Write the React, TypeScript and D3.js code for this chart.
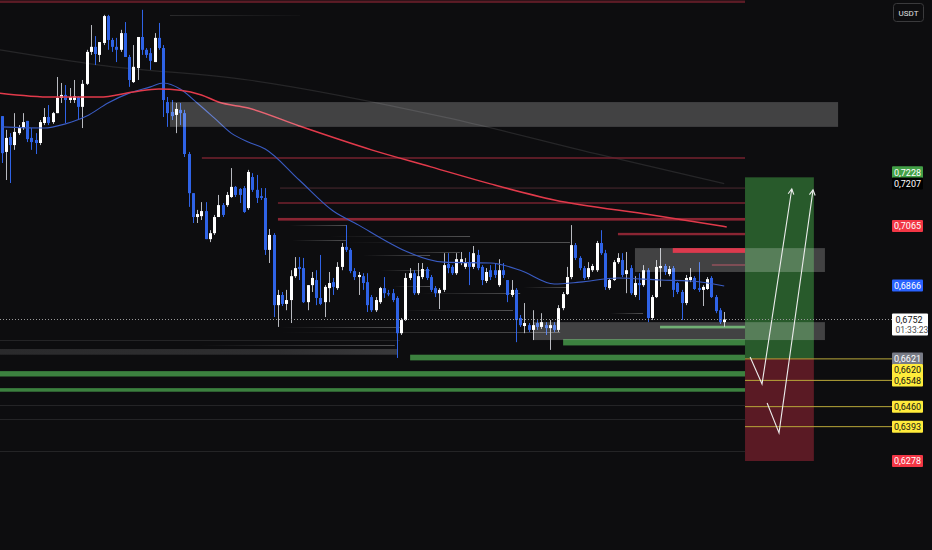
import { useEffect } from 'react';
import * as d3 from 'd3';

const W = 932;
const H = 550;

// candles, oldest first (USDT pair, price in quote)
const open = [
  0.7433, 0.7313, 0.7363, 0.7336, 0.7376, 0.7393, 0.7417, 0.7360, 0.7353, 0.7343,
  0.7410, 0.7430, 0.7413, 0.7443, 0.7494, 0.7504, 0.7487, 0.7487, 0.7497, 0.7464,
  0.7541, 0.7648, 0.7665, 0.7638, 0.7678, 0.7768, 0.7688, 0.7665, 0.7655, 0.7711,
  0.7631, 0.7547, 0.7594, 0.7698, 0.7655, 0.7644, 0.7614, 0.7695, 0.7661, 0.7480,
  0.7447, 0.7437, 0.7454, 0.7443, 0.7306, 0.7175, 0.7095, 0.7098, 0.7115, 0.7021,
  0.7041, 0.7095, 0.7135, 0.7135, 0.7162, 0.7196, 0.7189, 0.7192, 0.7125, 0.7229,
  0.7186, 0.7165, 0.7159, 0.6985, 0.7035, 0.6800, 0.6834, 0.6804, 0.6817, 0.6897,
  0.6928, 0.6924, 0.6810, 0.6867, 0.6884, 0.6824, 0.6810, 0.6857, 0.6877, 0.6857,
  0.6928, 0.6995, 0.6985, 0.6914, 0.6894, 0.6897, 0.6877, 0.6827, 0.6783, 0.6810,
  0.6857, 0.6840, 0.6840, 0.6824, 0.6706, 0.6750, 0.6891, 0.6907, 0.6840, 0.6894,
  0.6921, 0.6894, 0.6857, 0.6840, 0.6851, 0.6938, 0.6928, 0.6907, 0.6941, 0.6928,
  0.6941, 0.6928, 0.6968, 0.6928, 0.6881, 0.6917, 0.6917, 0.6867, 0.6917, 0.6884,
  0.6834, 0.6851, 0.6757, 0.6730, 0.6733, 0.6717, 0.6740, 0.6727, 0.6733, 0.6723,
  0.6733, 0.6717, 0.6790, 0.6837, 0.6894, 0.7001, 0.6958, 0.6924, 0.6894, 0.6917,
  0.6917, 0.7008, 0.6974, 0.6857, 0.6884, 0.6944, 0.6951, 0.6904, 0.6924, 0.6834,
  0.6874, 0.6867, 0.6917, 0.6757, 0.6827, 0.6924, 0.6931, 0.6904, 0.6924, 0.6874,
  0.6844, 0.6807, 0.6884, 0.6891, 0.6857, 0.6851, 0.6854, 0.6891, 0.6827, 0.6783,
  0.6743,
];
const high = [
  0.7433, 0.7387, 0.7376, 0.7443, 0.7403, 0.7443, 0.7417, 0.7393, 0.7376, 0.7420,
  0.7460, 0.7470, 0.7447, 0.7564, 0.7544, 0.7537, 0.7527, 0.7554, 0.7500, 0.7554,
  0.7655, 0.7738, 0.7701, 0.7681, 0.7772, 0.7772, 0.7695, 0.7695, 0.7722, 0.7748,
  0.7638, 0.7671, 0.7698, 0.7789, 0.7661, 0.7661, 0.7711, 0.7745, 0.7671, 0.7497,
  0.7487, 0.7477, 0.7477, 0.7454, 0.7313, 0.7175, 0.7119, 0.7145, 0.7145, 0.7051,
  0.7102, 0.7169, 0.7142, 0.7179, 0.7259, 0.7199, 0.7192, 0.7199, 0.7253, 0.7242,
  0.7236, 0.7192, 0.7192, 0.7055, 0.7041, 0.6851, 0.6844, 0.6851, 0.6917, 0.6961,
  0.6961, 0.6958, 0.6867, 0.6911, 0.6917, 0.6968, 0.6867, 0.6911, 0.6891, 0.6944,
  0.7008, 0.7068, 0.6991, 0.6924, 0.6911, 0.6907, 0.6907, 0.6834, 0.6827, 0.6861,
  0.6894, 0.6851, 0.6854, 0.6830, 0.6757, 0.6907, 0.6924, 0.6917, 0.6941, 0.6941,
  0.6928, 0.6901, 0.6864, 0.6857, 0.6974, 0.6974, 0.6934, 0.6974, 0.6978, 0.6958,
  0.6978, 0.6998, 0.6985, 0.6934, 0.6924, 0.6934, 0.6941, 0.6954, 0.6941, 0.6884,
  0.6884, 0.6857, 0.6767, 0.6807, 0.6740, 0.6783, 0.6750, 0.6773, 0.6743, 0.6750,
  0.6743, 0.6800, 0.6844, 0.6928, 0.7068, 0.7008, 0.6964, 0.6931, 0.6944, 0.6938,
  0.7015, 0.7051, 0.6985, 0.6891, 0.6951, 0.6974, 0.6974, 0.6978, 0.6934, 0.6897,
  0.6907, 0.6934, 0.6924, 0.6834, 0.6951, 0.6991, 0.6938, 0.6931, 0.6931, 0.6877,
  0.6851, 0.6901, 0.6924, 0.6897, 0.6944, 0.6867, 0.6894, 0.6897, 0.6834, 0.6790,
  0.6777,
];
const low = [
  0.7276, 0.7219, 0.7209, 0.7320, 0.7370, 0.7387, 0.7346, 0.7320, 0.7306, 0.7336,
  0.7403, 0.7403, 0.7407, 0.7443, 0.7477, 0.7410, 0.7477, 0.7477, 0.7420, 0.7393,
  0.7537, 0.7638, 0.7604, 0.7614, 0.7671, 0.7655, 0.7648, 0.7614, 0.7648, 0.7631,
  0.7531, 0.7544, 0.7554, 0.7638, 0.7628, 0.7588, 0.7614, 0.7655, 0.7430, 0.7397,
  0.7420, 0.7376, 0.7403, 0.7296, 0.7129, 0.7075, 0.7075, 0.7085, 0.7021, 0.7011,
  0.7035, 0.7095, 0.7095, 0.7129, 0.7159, 0.7162, 0.7142, 0.7109, 0.7119, 0.7179,
  0.7142, 0.7152, 0.6968, 0.6941, 0.6760, 0.6727, 0.6797, 0.6783, 0.6740, 0.6891,
  0.6884, 0.6807, 0.6783, 0.6844, 0.6800, 0.6800, 0.6760, 0.6810, 0.6834, 0.6851,
  0.6917, 0.6978, 0.6907, 0.6884, 0.6834, 0.6851, 0.6777, 0.6777, 0.6777, 0.6804,
  0.6824, 0.6830, 0.6810, 0.6623, 0.6700, 0.6747, 0.6884, 0.6834, 0.6834, 0.6887,
  0.6884, 0.6844, 0.6827, 0.6787, 0.6844, 0.6907, 0.6901, 0.6901, 0.6934, 0.6921,
  0.6867, 0.6921, 0.6917, 0.6867, 0.6874, 0.6884, 0.6891, 0.6861, 0.6891, 0.6810,
  0.6827, 0.6676, 0.6727, 0.6706, 0.6710, 0.6683, 0.6717, 0.6720, 0.6700, 0.6650,
  0.6710, 0.6710, 0.6783, 0.6834, 0.6887, 0.6951, 0.6917, 0.6884, 0.6887, 0.6911,
  0.6911, 0.6968, 0.6851, 0.6851, 0.6881, 0.6938, 0.6894, 0.6840, 0.6834, 0.6827,
  0.6817, 0.6861, 0.6743, 0.6750, 0.6824, 0.6861, 0.6901, 0.6897, 0.6827, 0.6837,
  0.6750, 0.6800, 0.6877, 0.6851, 0.6844, 0.6797, 0.6851, 0.6824, 0.6773, 0.6737,
  0.6727,
];
const close = [
  0.7309, 0.7360, 0.7336, 0.7380, 0.7393, 0.7413, 0.7356, 0.7346, 0.7343, 0.7413,
  0.7430, 0.7410, 0.7443, 0.7494, 0.7504, 0.7487, 0.7497, 0.7500, 0.7464, 0.7541,
  0.7648, 0.7665, 0.7641, 0.7681, 0.7768, 0.7688, 0.7665, 0.7655, 0.7711, 0.7631,
  0.7554, 0.7598, 0.7698, 0.7655, 0.7638, 0.7618, 0.7695, 0.7661, 0.7487, 0.7443,
  0.7433, 0.7457, 0.7443, 0.7306, 0.7175, 0.7095, 0.7105, 0.7115, 0.7021, 0.7041,
  0.7095, 0.7135, 0.7102, 0.7169, 0.7196, 0.7169, 0.7169, 0.7112, 0.7246, 0.7186,
  0.7159, 0.7159, 0.6985, 0.7035, 0.6800, 0.6834, 0.6804, 0.6817, 0.6897, 0.6924,
  0.6921, 0.6810, 0.6867, 0.6891, 0.6824, 0.6804, 0.6861, 0.6874, 0.6861, 0.6928,
  0.6995, 0.6985, 0.6914, 0.6894, 0.6901, 0.6874, 0.6800, 0.6783, 0.6817, 0.6857,
  0.6840, 0.6837, 0.6817, 0.6706, 0.6750, 0.6891, 0.6907, 0.6840, 0.6897, 0.6921,
  0.6891, 0.6851, 0.6840, 0.6851, 0.6934, 0.6924, 0.6907, 0.6954, 0.6954, 0.6941,
  0.6928, 0.6974, 0.6924, 0.6884, 0.6911, 0.6894, 0.6901, 0.6917, 0.6901, 0.6834,
  0.6851, 0.6750, 0.6733, 0.6740, 0.6717, 0.6733, 0.6727, 0.6743, 0.6723, 0.6733,
  0.6717, 0.6790, 0.6837, 0.6894, 0.7001, 0.6958, 0.6924, 0.6891, 0.6924, 0.6931,
  0.7008, 0.6974, 0.6861, 0.6884, 0.6944, 0.6958, 0.6901, 0.6917, 0.6840, 0.6874,
  0.6867, 0.6917, 0.6757, 0.6827, 0.6928, 0.6931, 0.6911, 0.6921, 0.6851, 0.6844,
  0.6807, 0.6891, 0.6894, 0.6854, 0.6851, 0.6861, 0.6887, 0.6827, 0.6780, 0.6743,
  0.6752,
];

// moving averages at a few bars
const blueIdx = [0, 10, 15, 20, 25, 30, 35, 38, 42, 46, 50, 54, 58, 62, 70, 78, 84, 90, 95, 104, 115, 122, 130, 136, 145, 155, 162, 170];
const blueVal = [0.7397, 0.7393, 0.7407, 0.7433, 0.7477, 0.7510, 0.7531, 0.7544, 0.7524, 0.7477, 0.7427, 0.7376, 0.7346, 0.7323, 0.7219, 0.7115, 0.7068, 0.7018, 0.6981, 0.6944, 0.6941, 0.6917, 0.6871, 0.6877, 0.6891, 0.6884, 0.6881, 0.6864];
const redIdx = [-0.4, 12, 23, 31, 37, 42, 47, 51, 58, 70, 87, 101, 115, 130, 153, 170.6];
const redVal = [0.7510, 0.7497, 0.7497, 0.7514, 0.7524, 0.7520, 0.7504, 0.7480, 0.7460, 0.7400, 0.7320, 0.7263, 0.7206, 0.7152, 0.7102, 0.7062];
const darkIdx = [-0.4, 23, 58, 105, 141, 170];
const darkVal = [0.7655, 0.7604, 0.7554, 0.7427, 0.7303, 0.7207];

// drawn levels: [fromBar, toBar, priceHigh, priceLow]
const greyZones = [
  [39.6, 196.8, 0.7480, 0.7397],
  [149, 193.7, 0.6991, 0.6911],
  [125, 193.7, 0.6743, 0.6683],
];
const redBands = [
  [-0.4, 174.9, 0.7820, 0.7812],
  [65.0, 174.9, 0.7092, 0.7083],
  [145.0, 174.9, 0.7042, 0.7034],
];
const hotBands = [[157.9, 174.9, 0.6991, 0.6975]];
const greenBands = [
  [154.9, 174.9, 0.6731, 0.6722],
  [132.1, 174.9, 0.6686, 0.6665],
  [96.1, 174.9, 0.6634, 0.6615],
  [-0.4, 174.9, 0.6579, 0.6561],
  [-0.4, 174.9, 0.6522, 0.6510],
];
const greyBands = [[-0.4, 93, 0.6653, 0.6634]];
// [fromBar, toBar, price]
const redLines = [
  [47.1, 174.9, 0.7293],
  [65.5, 174.9, 0.7192],
  [65.0, 174.9, 0.7142],
  [167.1, 174.9, 0.6934],
];
const dimLines = [
  [-0.4, 93.7, 0.6683],
  [-0.4, 174.9, 0.6466],
  [-0.4, 174.9, 0.6420],
  [-0.4, 174.9, 0.6310],
];
const fadeLines = [
  [67.8, 81.2, 0.7068],
  [68.3, 81.2, 0.7018],
  [77.2, 110.2, 0.7031],
  [79.6, 133.7, 0.7011],
  [85.0, 100.8, 0.6968],
  [93.7, 107.8, 0.6978],
  [89.0, 100.8, 0.6917],
  [92.1, 100.8, 0.6864],
  [122.7, 133.0, 0.6861],
  [98.4, 122.0, 0.6840],
  [93.7, 120.3, 0.6783],
  [143.1, 150.9, 0.6773],
  [65.5, 93.7, 0.6727],
  [65.5, 131.4, 0.6710],
  [46.7, 92.5, 0.6666],
];
const faintTop = [[39.6, 70.2, 0.7771]];

// long position tool
const posFrom = 174.9;
const posTo = 191.1;
const posTarget = 0.7228;
const posEntry = 0.6621;
const posStop = 0.6278;
const arrowPaths = [
  [[176.1, 0.6626], [178.9, 0.6536], [185.9, 0.7189]],
  [[180.1, 0.6472], [182.9, 0.6372], [190.9, 0.7186]],
];
const yellowLevels = [0.6620, 0.6548, 0.6460, 0.6393];

const lastPrice = 0.6752;
const countdown = '01:33:23';
const labelPrices = [0.7228, 0.7207, 0.7065, 0.6866, 0.6621, 0.6620, 0.6548, 0.6460, 0.6393, 0.6278];
const labelKinds = ['green', 'black', 'red', 'blue', 'grey', 'yellow', 'yellow', 'yellow', 'yellow', 'red'];

const labelStyle: Record<string, { bg: string; fg: string }> = {
  green: { bg: '#43a047', fg: '#ffffff' },
  black: { bg: '#000000', fg: '#ffffff' },
  red: { bg: '#f23645', fg: '#ffffff' },
  blue: { bg: '#2962ff', fg: '#ffffff' },
  grey: { bg: '#787b86', fg: '#ffffff' },
  yellow: { bg: '#ffeb3b', fg: '#131313' },
};
const labelShift = [-5, 0, 0, 0, 0, 11, 0, 0, 0, 0];

const fmt = (v: number) => d3.format('.4f')(v).replace('.', ',');

const App = () => {
  useEffect(() => {
    document.body.style.margin = '0';
    document.body.style.background = '#0d0d0f';
  }, []);

  const x = d3.scaleLinear().domain([0, 170]).range([1.7, 724.2]);
  const y = d3.scaleLinear().domain([0.7065, 0.6278]).range([226, 461]);
  const axisX = 892;
  const font = 'Roboto, "Noto Sans", sans-serif';

  const line = (idx: number[], val: number[]) =>
    d3.line<number>().x((_, i) => x(idx[i])).y(d => y(d)).curve(d3.curveMonotoneX)(val) || '';

  const band = (z: number[], fill: string, key: string, opacity = 1) => (
    <rect key={key} x={x(z[0])} y={y(z[2])} width={x(z[1]) - x(z[0])}
      height={Math.max(1, y(z[3]) - y(z[2]))} fill={fill} opacity={opacity} />
  );

  const arrowHead = (tip: number[], from: number[]) => {
    const tx = x(tip[0]), ty = y(tip[1]);
    const a = Math.atan2(ty - y(from[1]), tx - x(from[0]));
    const l = 6, s = 0.5;
    return `M${tx - l * Math.cos(a - s)},${ty - l * Math.sin(a - s)}L${tx},${ty}L${tx - l * Math.cos(a + s)},${ty - l * Math.sin(a + s)}`;
  };

  return (
    <svg width={W} height={H} style={{ display: 'block', background: '#0d0d0f' }}>
      <defs>
        <linearGradient id="fade" x1="0" x2="1" y1="0" y2="0">
          <stop offset="0" stopColor="#ffffff" stopOpacity="0" />
          <stop offset="1" stopColor="#ffffff" stopOpacity="0.28" />
        </linearGradient>
        <linearGradient id="fadeTop" x1="0" x2="1" y1="0" y2="0">
          <stop offset="0" stopColor="#ffffff" stopOpacity="0.12" />
          <stop offset="1" stopColor="#ffffff" stopOpacity="0.02" />
        </linearGradient>
        <linearGradient id="fadeBand" x1="0" x2="1" y1="0" y2="0">
          <stop offset="0" stopColor="#2a2a2c" />
          <stop offset="0.7" stopColor="#2e2e30" />
          <stop offset="1" stopColor="#3a3a3c" />
        </linearGradient>
      </defs>
      <rect width={W} height={H} fill="#0d0d0f" />

      {/* position tool */}
      <rect x={x(posFrom)} y={y(posTarget)} width={x(posTo) - x(posFrom)} height={y(posEntry) - y(posTarget)} fill="#285a2b" />
      <rect x={x(posFrom)} y={y(posEntry)} width={x(posTo) - x(posFrom)} height={y(posStop) - y(posEntry)} fill="#5a1a24" />

      {dimLines.map((l, i) => (
        <line key={'d' + i} x1={x(l[0])} x2={x(l[1])} y1={Math.round(y(l[2])) + 0.5} y2={Math.round(y(l[2])) + 0.5} stroke="#242426" />
      ))}
      {greyBands.map((z, i) => band(z, 'url(#fadeBand)', 'gb' + i))}
      {fadeLines.map((l, i) => (
        <rect key={'f' + i} x={x(l[0])} y={Math.round(y(l[2]))} width={x(l[1]) - x(l[0])} height={1} fill="url(#fade)" />
      ))}
      {faintTop.map((l, i) => (
        <rect key={'ft' + i} x={x(l[0])} y={Math.round(y(l[2]))} width={x(l[1]) - x(l[0])} height={1} fill="url(#fadeTop)" />
      ))}

      <path d={line(darkIdx, darkVal)} fill="none" stroke="#262628" strokeWidth={1.2} />

      {redBands.map((z, i) => band(z, i === 0 ? '#5c1c26' : '#8a2533', 'rb' + i))}
      {redLines.map((l, i) => (
        <line key={'r' + i} x1={x(l[0])} x2={x(l[1])} y1={y(l[2])} y2={y(l[2])}
          stroke={i === 1 ? '#4d2a31' : '#74222f'} strokeWidth={i === 1 ? 1 : 1.5} />
      ))}
      {greenBands.map((z, i) => band(z, i === 0 ? '#4a9a4e' : '#3c813f', 'g' + i))}

      {/* candles */}
      {close.map((c, i) => {
        const o = open[i];
        const up = c >= o;
        const cx = Math.round(x(i)) + 0.5;
        const top = y(Math.max(o, c));
        const h = Math.max(1.2, y(Math.min(o, c)) - top);
        return (
          <g key={'c' + i}>
            <line x1={cx} x2={cx} y1={y(high[i])} y2={y(low[i])} stroke={up ? '#b8bac0' : '#2f63e6'} strokeWidth={1} />
            <rect x={cx - 1.5} y={top} width={3} height={h} fill={up ? '#ffffff' : '#2f63e6'} />
          </g>
        );
      })}

      <path d={line(blueIdx, blueVal)} fill="none" stroke="#3a5cc4" strokeWidth={1.1} />
      <path d={line(redIdx, redVal)} fill="none" stroke="#e23a4b" strokeWidth={1.5} />

      {greyZones.map((z, i) => band(z, '#ffffff', 'z' + i, 0.22))}
      {hotBands.map((z, i) => band(z, '#dc3a4e', 'h' + i))}

      {yellowLevels.map((p, i) => (
        <line key={'y' + i} x1={x(posFrom)} x2={axisX} y1={y(p)} y2={y(p)} stroke="#b9a83a" strokeWidth={1} />
      ))}

      {arrowPaths.map((pts, i) => (
        <g key={'a' + i} fill="none" stroke="#ececec" strokeWidth={1.1}>
          <path d={d3.line<number[]>().x(p => x(p[0])).y(p => y(p[1]))(pts) || ''} />
          <path d={arrowHead(pts[2], pts[1])} />
        </g>
      ))}

      {/* last price */}
      <line x1={0} x2={axisX} y1={Math.round(y(lastPrice)) + 0.5} y2={Math.round(y(lastPrice)) + 0.5}
        stroke="#9a9a9a" strokeDasharray="1 2" />

      {/* right scale labels */}
      {labelPrices.map((p, i) => {
        const st = labelStyle[labelKinds[i]];
        const cy = y(p) + labelShift[i];
        return (
          <g key={'l' + i}>
            <rect x={axisX} y={cy - 6} width={31} height={12} fill={st.bg} rx={1} />
            <text x={axisX + 15.5} y={cy + 3.2} textAnchor="middle" fontSize={9} fontFamily={font} fill={st.fg}>{fmt(p)}</text>
          </g>
        );
      })}
      <g>
        <rect x={axisX} y={y(lastPrice) - 6} width={36} height={22} fill="#ffffff" rx={1} />
        <text x={axisX + 3.5} y={y(lastPrice) + 3.2} fontSize={9} fontFamily={font} fill="#131313">{fmt(lastPrice)}</text>
        <text x={axisX + 3.5} y={y(lastPrice) + 13.5} fontSize={8.5} fontFamily={font} fill="#4a4a4a">{countdown}</text>
      </g>

      <rect x={893.5} y={3.5} width={30} height={18} rx={3} fill="#0d0d0f" stroke="#3a3a3c" />
      <text x={908.5} y={15.5} textAnchor="middle" fontSize={8} fontFamily={font} fill="#e0e0e0">USDT</text>
    </svg>
  );
};

export default App;
